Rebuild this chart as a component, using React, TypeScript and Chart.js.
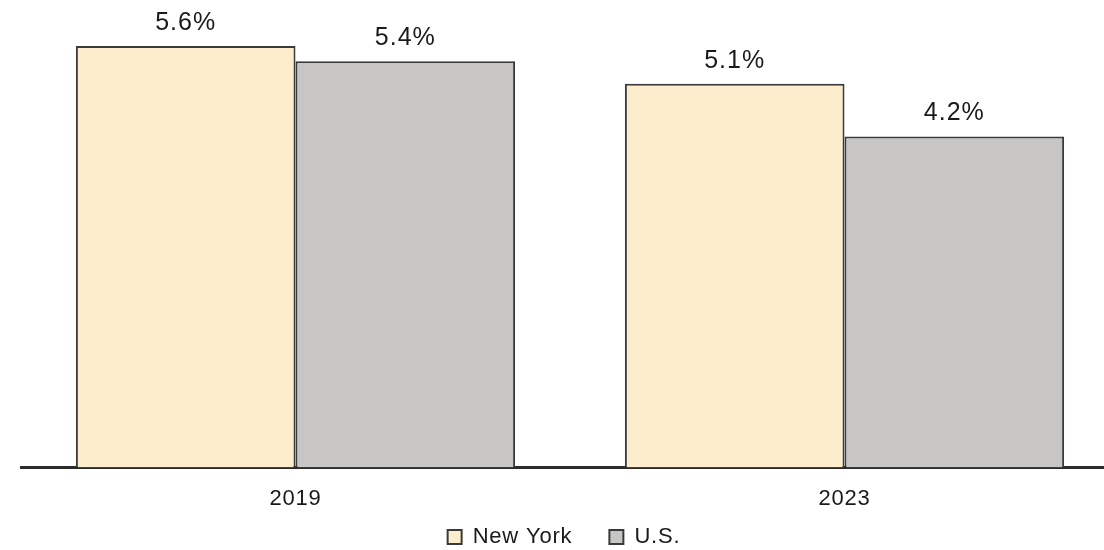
import React, { useEffect, useRef } from "react";
import { Chart, registerables } from "chart.js";

Chart.register(...registerables);

const categories = ["2019", "2023"];
const seriesNames = ["New York", "U.S."];
const newYorkValues = [5.6, 5.1];
const usValues = [5.4, 4.4];
const newYorkLabels = ["5.6%", "5.1%"];
const usLabels = ["5.4%", "4.2%"];
const yMax = 6;

const FONT = "'Liberation Sans', Arial, Helvetica, sans-serif";

export default function App() {
  const ref = useRef<HTMLCanvasElement>(null);

  useEffect(() => {
    const valueLabels = [newYorkLabels, usLabels];

    const spacingPlugin = {
      id: "letterSpacing",
      beforeLayout(chart: any) {
        chart.ctx.letterSpacing = "0.8px";
      },
      afterLayout(chart: any) {
        const lg = chart.legend;
        if (lg) {
          lg.top -= 33;
          lg.bottom -= 33;
          lg.left -= 6;
          lg.right -= 6;
        }
      },
      beforeDraw(chart: any) {
        chart.ctx.letterSpacing = "0.8px";
      },
    };

    const labelPlugin = {
      id: "valueLabels",
      afterDatasetsDraw(chart: any) {
        const ctx = chart.ctx;
        ctx.save();
        ctx.font = `25px ${FONT}`;
        ctx.letterSpacing = "1px";
        ctx.fillStyle = "#1a1a1a";
        ctx.textAlign = "center";
        ctx.textBaseline = "middle";
        chart.data.datasets.forEach((_ds: any, di: number) => {
          const meta = chart.getDatasetMeta(di);
          meta.data.forEach((bar: any, i: number) => {
            ctx.fillText(valueLabels[di][i], bar.x, bar.y - 23);
          });
        });
        ctx.restore();
      },
    };

    const chart = new Chart(ref.current as HTMLCanvasElement, {
      type: "bar",
      data: {
        labels: categories,
        datasets: [
          {
            label: seriesNames[0],
            data: newYorkValues,
            backgroundColor: "#FDEDCD",
            borderColor: "#3a3a3a",
            borderWidth: 2,
            categoryPercentage: 0.8,
            barPercentage: 1,
          },
          {
            label: seriesNames[1],
            data: usValues,
            backgroundColor: "#C7C6C5",
            borderColor: "#3a3a3a",
            borderWidth: 2,
            categoryPercentage: 0.8,
            barPercentage: 1,
          },
        ],
      },
      options: {
        responsive: false,
        animation: false,
        layout: { padding: { left: 21, right: 1, top: 16, bottom: 0 } },
        plugins: {
          tooltip: { enabled: false },
          legend: {
            position: "bottom",
            labels: {
              boxWidth: 14,
              boxHeight: 14,
              padding: 37,
              color: "#1a1a1a",
              font: { size: 22, family: FONT },
            },
          },
        },
        scales: {
          x: {
            grid: { display: false },
            border: { display: true, color: "#2b2b2b", width: 3 },
            ticks: { color: "#1a1a1a", padding: 10, font: { size: 22, family: FONT } },
          },
          y: { display: false, min: 0, max: yMax },
        },
      },
      plugins: [spacingPlugin, labelPlugin],
    } as any);

    return () => chart.destroy();
  }, []);

  return (
    <div
      style={{
        position: "absolute",
        left: 0,
        top: 0,
        width: 1104,
        height: 550,
        overflow: "hidden",
        background: "#fff",
      }}
    >
      <canvas ref={ref} width={1120} height={591} style={{ display: "block" }} />
    </div>
  );
}
